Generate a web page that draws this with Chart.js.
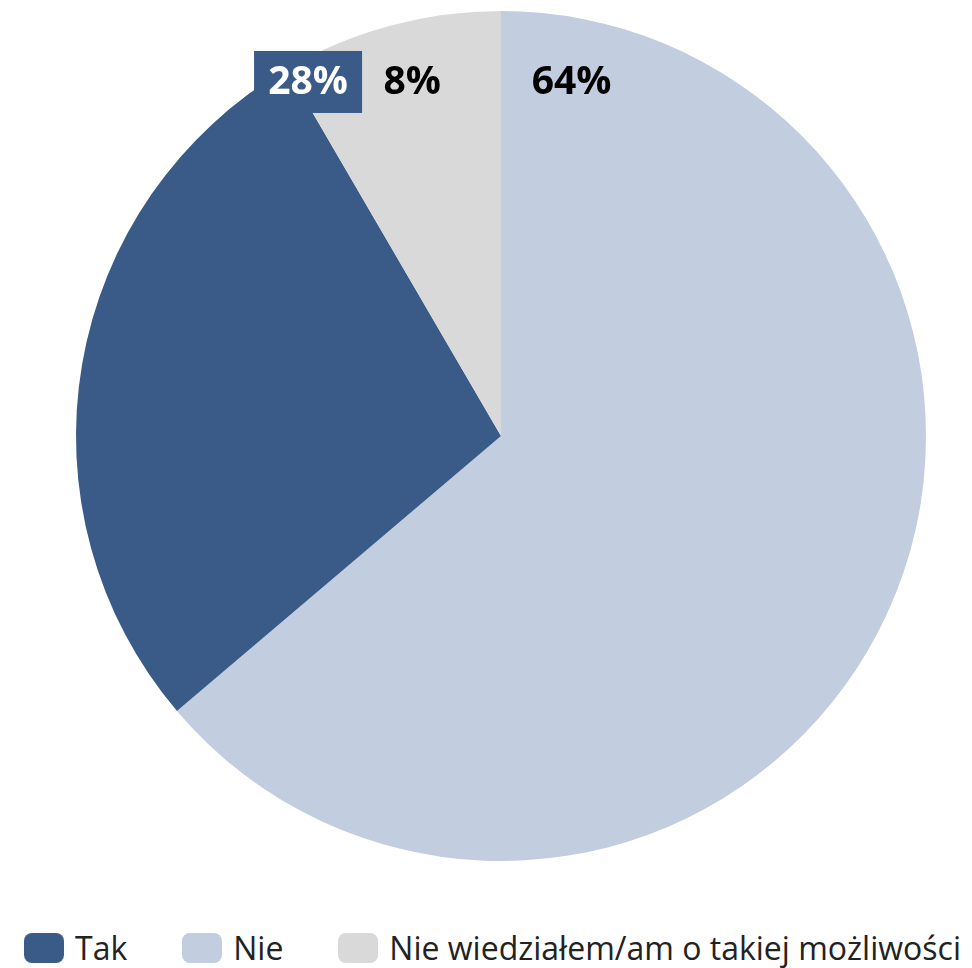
<!DOCTYPE html>
<html>
<head>
<meta charset="utf-8">
<script src="https://cdn.jsdelivr.net/npm/chart.js@4"></script>
<style>
  html, body { margin: 0; padding: 0; background: #ffffff; }
  #page { position: relative; width: 972px; height: 968px; }
  #wrap { position: absolute; left: 0; top: 0; width: 972px; height: 861px; }
  #legend {
    position: absolute; left: 24px; top: 933px;
    display: flex; align-items: center;
    font-family: 'Open Sans', sans-serif; font-size: 32px; color: #222222;
  }
  .item { display: flex; align-items: center; margin-right: 55px; }
  .item:last-child { margin-right: 0; }
  .swatch { width: 40px; height: 30px; border-radius: 8px; margin-right: 11px; }
  .txt { line-height: 30px; white-space: nowrap; }
</style>
</head>
<body>
<div id="page">
  <div id="wrap"><canvas id="pieChart"></canvas></div>
  <div id="legend"></div>
</div>
<script>
// data, in drawing order (clockwise from top)
const categories = ["Nie", "Tak", "Nie wiedziałem/am o takiej możliwości"];
const shares = [63.8, 27.8, 8.4];
const sliceColors = ["#C2CDE0", "#3A5B88", "#D9D9D9"];
const legendOrder = ["Tak", "Nie", "Nie wiedziałem/am o takiej możliwości"];

// label placement relative to centre, in units of radius
const labelSpots = [
  { dx: 0.166, dy: -0.833, boxed: false },
  { dx: -0.454, dy: -0.833, boxed: true },
  { dx: -0.209, dy: -0.833, boxed: false },
];

const pieLabels = {
  id: "pieLabels",
  afterDatasetsDraw(chart) {
    const ctx = chart.ctx;
    const meta = chart.getDatasetMeta(0);
    ctx.save();
    ctx.font = "bold 39px 'Open Sans'";
    ctx.textAlign = "center";
    ctx.textBaseline = "middle";
    meta.data.forEach((arc, i) => {
      const spot = labelSpots[i];
      const r = arc.outerRadius;
      const x = arc.x + spot.dx * r;
      const y = arc.y + spot.dy * r;
      const text = Math.round(shares[i]) + "%";
      if (spot.boxed) {
        ctx.fillStyle = sliceColors[i];
        ctx.fillRect(x - 54, y - 31, 108, 62);
        ctx.fillStyle = "#ffffff";
      } else {
        ctx.fillStyle = "#000000";
      }
      ctx.fillText(text, x, y + 1);
    });
    ctx.restore();
  },
};

function buildLegend() {
  const box = document.getElementById("legend");
  legendOrder.forEach((name) => {
    const i = categories.indexOf(name);
    const item = document.createElement("div");
    item.className = "item";
    const sw = document.createElement("span");
    sw.className = "swatch";
    sw.style.background = sliceColors[i];
    const t = document.createElement("span");
    t.className = "txt";
    t.textContent = name;
    item.appendChild(sw);
    item.appendChild(t);
    box.appendChild(item);
  });
}

new Chart(document.getElementById("pieChart"), {
  type: "pie",
  data: {
    labels: categories,
    datasets: [
      {
        data: shares,
        backgroundColor: sliceColors,
        borderWidth: 0,
      },
    ],
  },
  options: {
    responsive: true,
    maintainAspectRatio: false,
    animation: false,
    layout: { padding: { top: 11, left: 30, right: 0, bottom: 0 } },
    plugins: {
      tooltip: { enabled: false },
      legend: { display: false },
    },
  },
  plugins: [pieLabels],
});
buildLegend();
</script>
</body>
</html>
